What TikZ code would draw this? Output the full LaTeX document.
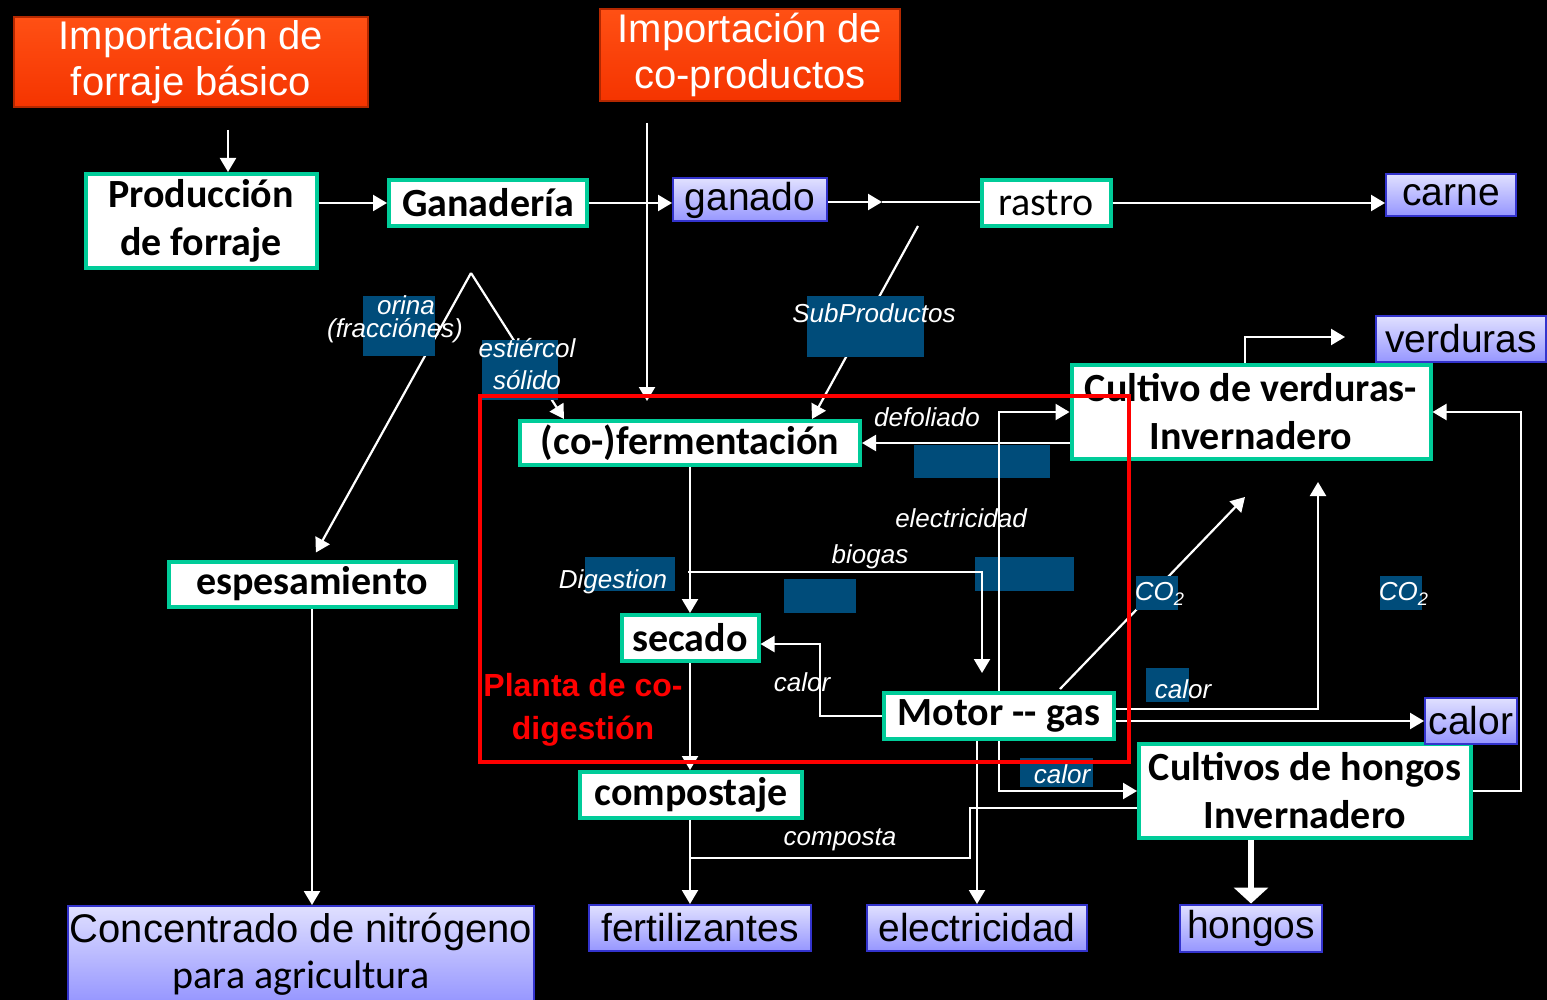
\documentclass[tikz,border=0pt]{standalone}
\usepackage{fontspec}
\setmainfont{Liberation Sans}
\newfontfamily\cali{Carlito}
\usetikzlibrary{arrows.meta,calc}
\definecolor{mint}{RGB}{0,204,153}
\definecolor{ember}{RGB}{245,52,0}
\definecolor{emberlt}{RGB}{255,80,20}
\definecolor{emberdk}{RGB}{180,40,0}
\definecolor{lilac}{RGB}{224,224,255}
\definecolor{lilacdk}{RGB}{150,150,255}
\definecolor{rim}{RGB}{51,51,204}
\definecolor{patchblue}{RGB}{0,76,122}

\begin{document}
\begin{tikzpicture}[x=.5pt,y=-.5pt,>={Triangle[length=7pt,width=8pt]},
 every node/.style={inner sep=1pt,align=center},
 imp/.style={draw=emberdk,line width=1pt,top color=emberlt,bottom color=ember,text=white,font=\fontsize{20}{23}\selectfont},
 gbox/.style={draw=mint,line width=2pt,fill=white,minimum height=23pt,font=\cali\bfseries\fontsize{20}{24}\selectfont},
 pbox/.style={draw=rim,line width=1pt,top color=lilac,bottom color=lilacdk,minimum height=22pt,font=\fontsize{19.5}{23}\selectfont},
 lbl/.style={text=white,inner sep=0pt,font=\itshape\fontsize{13}{15}\selectfont},
 hl/.style={fill=patchblue},
 flow/.style={white,line width=1.1pt}]
\path[use as bounding box,fill=black](0,0)rectangle(1547,1000);
% imports
\node[imp,minimum width=177pt,minimum height=45pt](impf)at(191,62){Importación de\\forraje básico};
\node[imp,minimum width=150pt,minimum height=46pt](impc)at(750,55){Importación de\\co-productos};
% processes
\node[gbox,minimum width=115.5pt,minimum height=47pt](prod)at(201,221){Producción\\de forraje};
\node[gbox,minimum width=99pt](gan)at(488,203){Ganadería};
\node[gbox,minimum width=64.5pt,font=\cali\fontsize{20}{24}\selectfont](rastro)at(1046,203){rastro};
\node[gbox,minimum width=170pt,minimum height=22pt](cofer)at(690,443){(co-)fermentación};
\node[gbox,minimum width=179.5pt,minimum height=47pt](cultv)at(1251,412){Cultivo de verduras-\\Invernadero};
\node[gbox,minimum width=143.5pt,minimum height=22.5pt](espe)at(312,584){espesamiento};
\node[gbox,minimum width=68.5pt](secado)at(690,638){secado};
\node[gbox,minimum width=115pt](motor)at(999,716){Motor -\kern0pt- gas};
\node[gbox,minimum width=111pt](compost)at(691,795){compostaje};
\node[gbox,minimum width=166pt,minimum height=47pt](hongbox)at(1305,791){Cultivos de hongos\\Invernadero};
% products
\node[pbox,minimum width=77pt,minimum height=21.5pt](ganado)at(750,200){ganado};
\node[pbox,minimum width=65pt,minimum height=21pt](carne)at(1451,195){carne};
\node[pbox,minimum width=85pt,minimum height=23pt](verd)at(1461,339){verduras};
\node[pbox,minimum width=46pt,minimum height=23pt](calbox)at(1471,721){calor};
\node[pbox,minimum width=233pt,minimum height=48pt,font=\fontsize{20}{23}\selectfont](conc)at(301,954){Concentrado de nitrógeno\\{\cali para agricultura}};
\node[pbox,minimum width=111pt,minimum height=23pt](fert)at(700,928){fertilizantes};
\node[pbox,minimum width=110pt,minimum height=23pt](elec)at(977,928){electricidad};
\node[pbox,minimum width=71pt,minimum height=23.5pt](hongos)at(1251,928){hongos};
% lines under the patches
\coordinate(split)at(471,273);\coordinate(subin)at(918,226);\coordinate(co2)at(1245,497);
\draw[flow,->,shorten >=4pt](split)--(espe.north);
\draw[flow,->](split)--($(cofer.north west)+(46,0)$);
\draw[flow,->](subin)--($(cofer.north)+(122,0)$);
\draw[flow,->]($(motor.north)+(61,-2)$)--(co2);
% label patches
\fill[hl](363,296)rectangle(435,356);
\fill[hl](482,340)rectangle(558,400);
\fill[hl](807,296)rectangle(924,357);
\fill[hl](914,445)rectangle(1050,478);
\fill[hl](585,557)rectangle(675,591);
\fill[hl](784,579)rectangle(856,613);
\fill[hl](975,557)rectangle(1074,591);
\fill[hl](1136,576)rectangle(1178,610);
\fill[hl](1380,576)rectangle(1422,610);
\fill[hl](1146,668)rectangle(1189,702);
\fill[hl](1020,758)rectangle(1093,787);
% flows
\coordinate(impin)at(228,130);\coordinate(cpin)at(647,123);\coordinate(gr)at(882,202);
\draw[flow,->](impin)--(impin|-prod.north);
\draw[flow,->](prod.east|-gan.west)--(gan.west);
\draw[flow,->](gan.east)--(gan.east-|ganado.west);
\draw[flow,->,shorten >=9pt](cpin)--(cpin|-cofer.north);
\draw[flow,->](ganado.east|-gr)--(gr);\draw[flow](gr)--(gr-|rastro.west);
\draw[flow,->](rastro.east)--(rastro.east-|carne.west);
\draw[flow,->](cultv.west|-cofer.east)--(cofer.east);
\draw[flow,->](motor.north)|-(cultv.west);
\draw[flow,->](motor.south)|-(hongbox.west);
\draw[flow,->](elec.north|-motor.south)--(elec.north);
\coordinate(bg)at(688,572);
\draw[flow,->,shorten >=9pt](bg)-|($(motor.north)+(-17,0)$);
\draw[flow,->](cofer.south)--(secado.north);
\draw[flow,->](secado.south)--(secado.south|-compost.north);
\draw[flow,->](compost.south-|secado.south)--(secado.south|-fert.north);
\coordinate(cp)at(690,858);\coordinate(cpk)at(970,808);
\draw[flow](cp)-|(cpk)--(cpk-|hongbox.west);
\coordinate(ck)at(820,644);
\draw[flow,->](motor.west)-|(ck)--(ck-|secado.east);
\coordinate(hup)at(1318,482);
\draw[flow,->]($(motor.east)+(0,-7)$)-|(hup);
\draw[flow,->](motor.east|-calbox.west)--(calbox.west);
\coordinate(rk)at(1521,791);
\draw[flow,->](hongbox.east)--(rk)|-(cultv.east);
\coordinate(vk)at(1345,337);
\draw[flow,->]($(cultv.north)+(-6,0)$)|-(vk);
\draw[white,line width=2.6pt,-{Triangle[length=8pt,width=17pt]}](hongbox.south-|hongos.north)--(hongos.north);
\draw[flow,->](espe.south)--(espe.south|-conc.north);
% labels
\node[lbl](orina)at(406,305){orina};\node[lbl](fracc)at(395,331){(fracciónes)};
\node[lbl](estier)at(527,348){estiércol};\node[lbl](solido)at(527,380){sólido};
\node[lbl](subp)at(874,313){SubProductos};
\node[lbl](defol)at(927,417){defoliado};
\node[lbl](elecl)at(961,518){electricidad};
\node[lbl](biogas)at(870,557){biogas};
\node[lbl](digest)at(613,582){Digestion};
\node[lbl](cola)at(1160,594){CO\textsubscript{2}};\node[lbl](colb)at(1404,594){CO\textsubscript{2}};
\node[lbl](calsec)at(802,682){calor};
\node[lbl](calcul)at(1183,689){calor};
\node[lbl](calhon)at(1062,774){calor};
\node[lbl](compl)at(840,840){composta};
% plant frame
\draw[red,line width=2.2pt](480,396)rectangle(1129,762);
\node[text=red,font=\bfseries\fontsize{16}{21.5}\selectfont](planta)at(583,710){Planta de co-\\digestión};
\end{tikzpicture}
\end{document}
